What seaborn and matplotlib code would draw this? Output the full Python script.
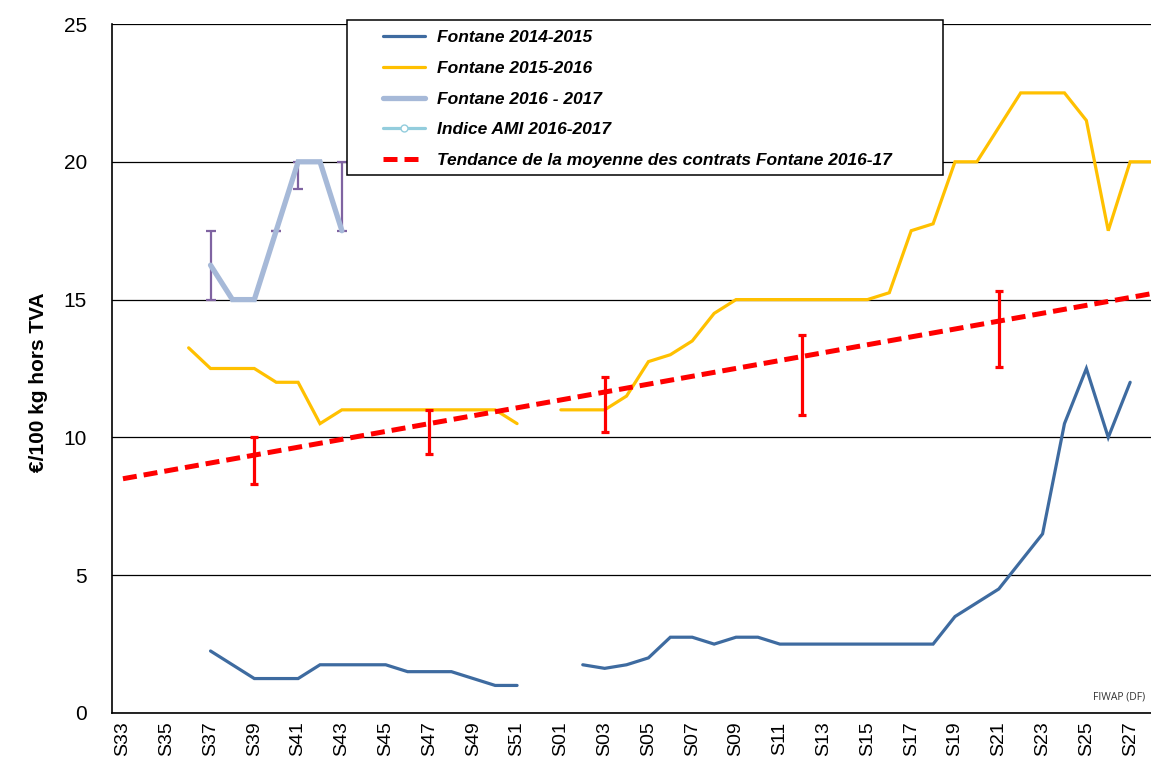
import numpy as np
import pandas as pd
import matplotlib.pyplot as plt
import seaborn as sns
from matplotlib.lines import Line2D
from matplotlib.patches import Rectangle

# week categories: S33..S52 then S01..S28
weeks = [f"S{w:02d}" for w in range(33, 53)] + [f"S{w:02d}" for w in range(1, 29)]

# Fontane 2014-2015
fontane_1415 = [None, None, None, None,
                2.25, 1.75, 1.25, 1.25, 1.25, 1.75, 1.75, 1.75, 1.75, 1.5, 1.5, 1.5, 1.25, 1.0, 1.0, None,
                None, 1.75, 1.62, 1.75, 2.0, 2.75, 2.75, 2.5, 2.75, 2.75, 2.5, 2.5, 2.5, 2.5, 2.5, 2.5, 2.5, 2.5,
                3.5, 4.0, 4.5, 5.5, 6.5, 10.5, 12.5, 10.0, 12.0, None]

# Fontane 2015-2016
fontane_1516 = [None, None, None, 13.25,
                12.5, 12.5, 12.5, 12.0, 12.0, 10.5, 11.0, 11.0, 11.0, 11.0, 11.0, 11.0, 11.0, 11.0, 10.5, None,
                11.0, 11.0, 11.0, 11.5, 12.75, 13.0, 13.5, 14.5, 15.0, 15.0, 15.0, 15.0, 15.0, 15.0, 15.0, 15.25,
                17.5, 17.75, 20.0, 20.0, 21.25, 22.5, 22.5, 22.5, 21.5, 17.5, 20.0, 20.0]

# Fontane 2016 - 2017
fontane_1617 = [None, None, None, None,
                16.25, 15.0, 15.0, 17.5, 20.0, 20.0, 17.5] + [None] * 37

# Indice AMI 2016-2017 ranges (purple bars)
ami_weeks = ["S37", "S40", "S41", "S43"]
ami_low = [15.0, 17.5, 19.0, 17.5]
ami_high = [17.5, 17.5, 20.0, 20.0]

# contrats Fontane 2016-17 ranges (red bars)
contract_weeks = ["S39", "S47", "S03", "S12", "S21"]
contract_low = [8.3, 9.4, 10.2, 10.8, 12.55]
contract_high = [10.0, 11.0, 12.2, 13.7, 15.3]

# trend line end points
trend_weeks = ["S33", "S28"]
trend_values = [8.5, 15.22]

labels = ["Fontane 2014-2015", "Fontane 2015-2016", "Fontane 2016 - 2017",
          "Indice AMI 2016-2017", "Tendance de la moyenne des contrats Fontane 2016-17"]

c_blue = "#3E6BA0"
c_yellow = "#FFC000"
c_gray = "#A6B9D8"
c_ami = "#93CDDD"
c_purple = "#7F63A1"
c_red = "#FF0000"

sns.set_style("white")
plt.rcParams['font.family'] = ['Liberation Sans', 'DejaVu Sans']
plt.rcParams['text.color'] = 'black'
plt.rcParams['xtick.color'] = 'black'
plt.rcParams['ytick.color'] = 'black'

W, H = 1151, 758
fig = plt.figure(figsize=(W / 100, H / 100), dpi=100)
ax = fig.add_axes([112 / W, 45 / H, 1051 / W, 689 / H])

pos = {w: i for i, w in enumerate(weeks)}


def draw_series(values, color, lw, z):
    s = pd.Series(values, dtype=float)
    df = pd.DataFrame({'x': np.arange(len(s)), 'y': s, 'seg': s.isna().cumsum()}).dropna()
    sns.lineplot(data=df, x='x', y='y', units='seg', estimator=None, color=color,
                 linewidth=lw, ax=ax, zorder=z, solid_joinstyle='miter')


draw_series(fontane_1415, c_blue, 2.3, 3)
draw_series(fontane_1516, c_yellow, 2.3, 3)
draw_series(fontane_1617, c_gray, 3.8, 4)

# AMI bars around the 2016-2017 curve
ax_x = [pos[w] for w in ami_weeks]
ami_mid = [(a + b) / 2 for a, b in zip(ami_low, ami_high)]
ami_err = [[m - a for m, a in zip(ami_mid, ami_low)], [b - m for m, b in zip(ami_mid, ami_high)]]
ax.errorbar(ax_x, ami_mid, yerr=ami_err, fmt='none', ecolor=c_purple, elinewidth=1.6,
            capsize=3.5, capthick=1.6, zorder=3.5)

# trend
tdf = pd.DataFrame({'x': [pos[w] for w in trend_weeks], 'y': trend_values})
sns.lineplot(data=tdf, x='x', y='y', color=c_red, linewidth=3.6, ax=ax, zorder=5,
             linestyle=(0, (2.8, 1.4)))

# contract min / max
cx = [pos[w] for w in contract_weeks]
c_mid = [(a + b) / 2 for a, b in zip(contract_low, contract_high)]
c_err = [[m - a for m, a in zip(c_mid, contract_low)], [b - m for m, b in zip(c_mid, contract_high)]]
ax.errorbar(cx, c_mid, yerr=c_err, fmt='none', ecolor=c_red, elinewidth=2.3,
            capsize=3, capthick=2.3, zorder=6)

# axes styling
ax.set_xlim(-0.5, len(weeks) - 0.5)
ax.set_ylim(0, 25)
ax.set_yticks([0, 5, 10, 15, 20, 25])
ax.set_xticks(range(0, len(weeks), 2))
ax.set_xticklabels(weeks[::2], rotation=90, fontsize=14)
ax.set_xticks(np.arange(-0.5, len(weeks), 1), minor=True)
ax.tick_params(axis='x', which='major', length=0, pad=6)
ax.tick_params(axis='x', which='minor', length=6, width=1, color='black', direction='out')
ax.tick_params(axis='y', which='major', length=6, width=1, color='black', direction='out',
               labelsize=15, pad=12)
ax.set_xlabel("")
ax.set_ylabel("")
ax.grid(axis='y', color='black', linewidth=0.9)
ax.grid(axis='x', visible=False)
for side in ['top', 'right']:
    ax.spines[side].set_visible(False)
for side in ['left', 'bottom']:
    ax.spines[side].set_color('black')
    ax.spines[side].set_linewidth(1.2)
ax.set_axisbelow(True)

fig.text(39 / W, 1 - 382 / H, "€/100 kg hors TVA", rotation=90, ha='center', va='center',
         fontsize=15, fontweight='bold')

# legend box
fig.add_artist(Rectangle((347 / W, 1 - 175 / H), 596 / W, 155 / H, transform=fig.transFigure,
                         facecolor='white', edgecolor='black', linewidth=1.1, zorder=4))
handles = [
    Line2D([], [], color=c_blue, lw=2.3),
    Line2D([], [], color=c_yellow, lw=2.3),
    Line2D([], [], color=c_gray, lw=3.8),
    Line2D([], [], color=c_ami, lw=2.3, marker='o', markersize=5, markerfacecolor='white',
           markeredgecolor=c_ami),
    Line2D([], [], color=c_red, lw=3.6, linestyle=(0, (2.8, 1.4))),
]
leg = fig.legend(handles, labels, loc='upper left', bbox_to_anchor=(383 / W, 1 - 30 / H),
                 frameon=False, borderpad=0, borderaxespad=0, handlelength=2.4,
                 handletextpad=0.7, labelspacing=0.9,
                 prop={'size': 12.5, 'weight': 'bold', 'style': 'italic'})
leg.set_zorder(5)

fig.text(1145 / W, 1 - 697 / H, "FIWAP (DF)", ha='right', va='center', fontsize=7.5,
         color='#333333', family=['Open Sans', 'DejaVu Sans'])

fig.savefig("out.png", dpi=100)
